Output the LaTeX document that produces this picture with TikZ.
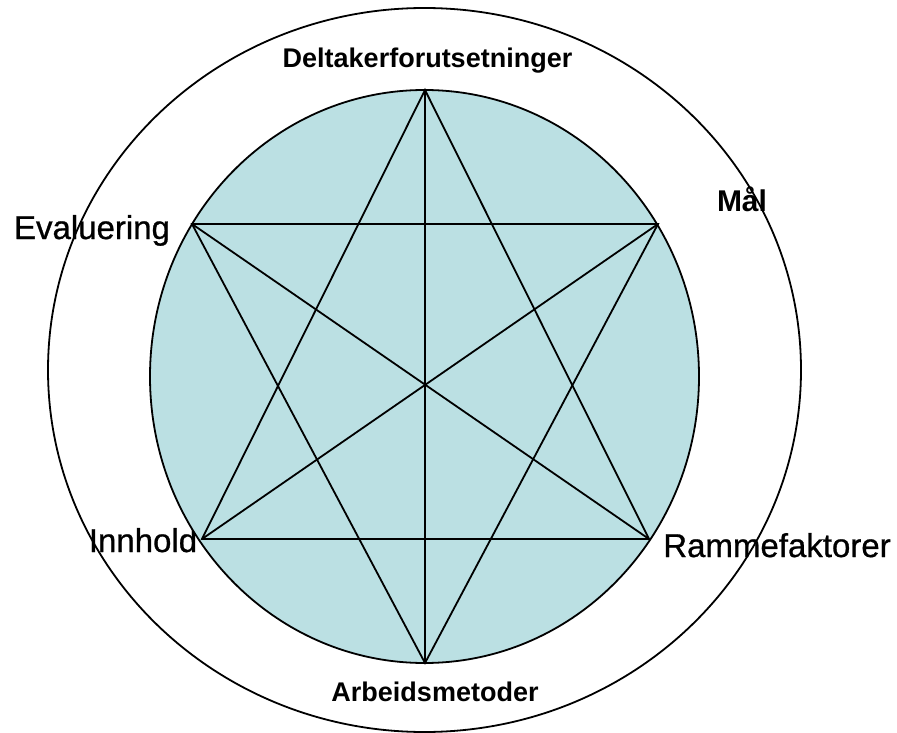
\documentclass[tikz,border=0pt]{standalone}
\usepackage{fontspec}
\setmainfont{Liberation Sans}
\newfontfamily\heavyfont[FakeBold=0.8]{Liberation Sans}
\definecolor{innerfill}{RGB}{187,224,227}
\tikzset{
  ring/.style={draw=black, line width=1.8pt},
  disc/.style={draw=black, fill=innerfill, line width=1.8pt},
  starline/.style={draw=black, line width=1.8pt, line join=miter},
  biglabel/.style={inner sep=0pt, anchor=base, font=\fontsize{33}{40}\heavyfont},
  boldlabel/.style={inner sep=0pt, anchor=base, font=\fontsize{30}{36}\selectfont\bfseries},
  smalllabel/.style={inner sep=0pt, anchor=base, font=\fontsize{27}{32}\selectfont\bfseries}
}
\begin{document}
\begin{tikzpicture}[x=1pt,y=-1pt]
\useasboundingbox (0,0) rectangle (897,733);
% labels
\node[smalllabel] (ldel) at (427.5,68) {Deltakerforutsetninger};
\node[smalllabel] (larb) at (435,701) {Arbeidsmetoder};
\node[biglabel] (leva) at (92,239) {Evaluering};
\node[biglabel] (linn) at (143,552) {Innhold};
\node[boldlabel] (lmal) at (742,211) {Mål};
\node[biglabel] (lram) at (777,557) {Rammefaktorer};
% circles
\draw[ring] (424.5,370) ellipse [x radius=376.5pt, y radius=362pt];
\draw[disc] (424.5,376.5) ellipse [x radius=274.5pt, y radius=286.5pt];
% star vertices
\coordinate (T) at (425,90);
\coordinate (B) at (425,663);
\coordinate (Ev) at (192,224);
\coordinate (Ma) at (658,224);
\coordinate (In) at (202,539);
\coordinate (Ra) at (649,539);
\draw[starline] (T) -- (In) -- (Ra) -- cycle;
\draw[starline] (B) -- (Ev) -- (Ma) -- cycle;
\draw[starline] (T) -- (B);
\draw[starline] (Ev) -- (Ra);
\draw[starline] (Ma) -- (In);
\end{tikzpicture}
\end{document}
